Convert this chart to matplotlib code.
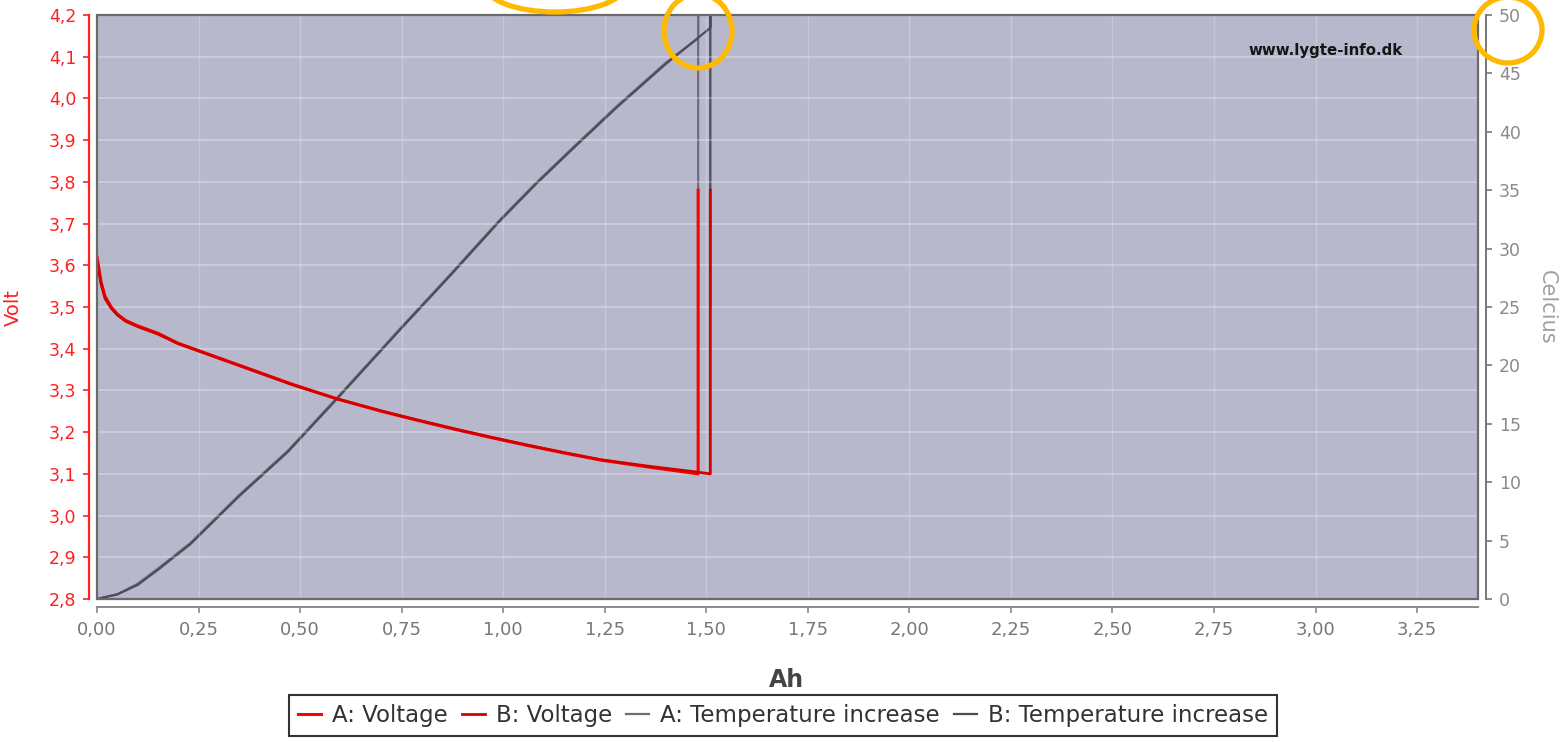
import numpy as np
import matplotlib
import matplotlib.pyplot as plt
from matplotlib.patches import Ellipse, Rectangle
from matplotlib.ticker import FuncFormatter, MultipleLocator
matplotlib.use('Agg')

# discharge capacity (Ah) and cell voltage, cell A and cell B
ah_a = [0.0, 0.01, 0.02, 0.035, 0.05, 0.07, 0.10, 0.15, 0.20, 0.30, 0.38, 0.48,
        0.59, 0.70, 0.79, 0.88, 0.97, 1.06, 1.15, 1.24, 1.36, 1.48, 1.48]
volt_a = [3.62, 3.56, 3.525, 3.50, 3.483, 3.468, 3.455, 3.437, 3.413, 3.378, 3.350, 3.315,
          3.280, 3.250, 3.228, 3.207, 3.187, 3.168, 3.150, 3.133, 3.116, 3.100, 3.78]
ah_b = [0.0, 0.01, 0.02, 0.035, 0.05, 0.07, 0.10, 0.15, 0.20, 0.30, 0.38, 0.48,
        0.59, 0.70, 0.79, 0.88, 0.97, 1.06, 1.15, 1.24, 1.36, 1.48, 1.51, 1.51]
volt_b = [3.61, 3.555, 3.52, 3.497, 3.481, 3.466, 3.453, 3.435, 3.412, 3.377, 3.349, 3.314,
          3.280, 3.251, 3.229, 3.208, 3.188, 3.169, 3.151, 3.134, 3.118, 3.104, 3.100, 3.78]

# temperature increase (Celcius) against capacity
t_ah_a = [0.0, 0.05, 0.10, 0.15, 0.23, 0.35, 0.47, 0.59, 0.75, 0.87, 0.99, 1.08, 1.17,
          1.28, 1.40, 1.48, 1.48, 1.48]
temp_a = [0.0, 0.4, 1.3, 2.6, 4.8, 8.9, 12.7, 17.2, 23.3, 27.8, 32.4, 35.6, 38.6,
          42.2, 45.9, 48.0, 75.0, 25.0]
t_ah_b = [0.0, 0.05, 0.10, 0.15, 0.23, 0.35, 0.47, 0.59, 0.75, 0.87, 0.99, 1.08, 1.17,
          1.28, 1.40, 1.51, 1.51, 1.51]
temp_b = [0.0, 0.4, 1.2, 2.5, 4.7, 8.8, 12.6, 17.1, 23.2, 27.7, 32.3, 35.5, 38.5,
          42.1, 45.8, 48.9, 75.0, 25.0]

W, H, dpi = 1561, 742, 100
plt.rcParams['font.family'] = ['DejaVu Sans']

fig = plt.figure(figsize=(W / dpi, H / dpi), dpi=dpi)
ax1 = fig.add_axes([97 / W, 1 - 599 / H, (1478 - 97) / W, (599 - 15) / H])
ax2 = ax1.twinx()

# voltage axis drawn above the temperature axis, background on the lower one
ax1.set_zorder(ax2.get_zorder() + 1)
ax1.patch.set_visible(False)
ax2.patch.set_visible(True)
ax2.patch.set_facecolor('#b8b8cc')

l_ta, = ax2.plot(t_ah_a, temp_a, color='#6c6c7a', lw=1.6, label='A: Temperature increase')
l_tb, = ax2.plot(t_ah_b, temp_b, color='#4c4c5a', lw=1.6, label='B: Temperature increase')
l_va, = ax1.plot(ah_a, volt_a, color='#ff0000', lw=2.2, label='A: Voltage')
l_vb, = ax1.plot(ah_b, volt_b, color='#d40000', lw=2.0, label='B: Voltage')

ax1.set_xlim(0, 3.40)
ax1.set_ylim(2.8, 4.2)
ax2.set_ylim(0, 50)

ax1.xaxis.set_major_locator(MultipleLocator(0.25))
ax1.yaxis.set_major_locator(MultipleLocator(0.1))
ax2.yaxis.set_major_locator(MultipleLocator(5))
ax1.xaxis.set_major_formatter(FuncFormatter(lambda v, p: f"{v:.2f}".replace('.', ',')))
ax1.yaxis.set_major_formatter(FuncFormatter(lambda v, p: f"{v:.1f}".replace('.', ',')))
ax2.yaxis.set_major_formatter(FuncFormatter(lambda v, p: f"{v:.0f}"))

# faint white grid
for y in np.arange(2.9, 4.15, 0.1):
    ax1.axhline(y, color='white', lw=1.2, alpha=0.32, zorder=0)
for x in np.arange(0.25, 3.3, 0.25):
    ax1.axvline(x, color='white', lw=1.0, alpha=0.22, zorder=0)

for sp in ['top', 'right']:
    ax1.spines[sp].set_visible(False)
for sp in ['top', 'left', 'bottom']:
    ax2.spines[sp].set_visible(False)
ax1.spines['left'].set_position(('outward', 6))
ax1.spines['left'].set_color('#ff2020')
ax1.spines['left'].set_linewidth(1.6)
ax1.spines['bottom'].set_position(('outward', 6))
ax1.spines['bottom'].set_color('#8a8a8a')
ax1.spines['bottom'].set_linewidth(1.4)
ax2.spines['right'].set_position(('outward', 6))
ax2.spines['right'].set_color('#777777')
ax2.spines['right'].set_linewidth(1.4)

ax1.tick_params(axis='y', colors='#ff2020', labelsize=12.5, length=4, width=1.2, pad=5)
ax1.tick_params(axis='x', colors='#8a8a8a', labelcolor='#777777', labelsize=13,
                length=4, width=1.2, pad=6)
ax2.tick_params(axis='y', colors='#777777', labelcolor='#8a8a8a', labelsize=12.5,
                length=4, width=1.2, pad=5)

# plot area border
ax1.add_patch(Rectangle((0, 0), 1, 1, transform=ax1.transAxes, fill=False,
                        edgecolor='#6a6a6a', lw=1.6, clip_on=False, zorder=10))

ax1.set_xlabel('Ah', fontsize=17, fontweight='bold', color='#444444')
ax1.xaxis.set_label_coords(0.499, -0.118)
ax1.set_ylabel('Volt', fontsize=14, color='#ff2020')
ax1.yaxis.set_label_coords(-0.054, 0.5)
ax2.set_ylabel('Celcius', fontsize=15, color='#a0a0a0', rotation=270, va='center')
ax2.yaxis.set_label_coords(1.050, 0.5)

ax1.text(0.89, 0.94, 'www.lygte-info.dk', transform=ax1.transAxes, ha='center',
         va='center', fontsize=10.8, fontweight='bold', color='#151515')

leg = fig.legend(handles=[l_va, l_vb, l_ta, l_tb], loc='lower center', ncol=4,
                 bbox_to_anchor=(783 / W, -0.008), fontsize=16.5, frameon=True,
                 fancybox=False, edgecolor='black', handlelength=1.0,
                 handletextpad=0.5, columnspacing=0.6, borderpad=0.4)
leg.get_frame().set_linewidth(1.5)
for txt in leg.get_texts():
    txt.set_color('#333333')

# highlight rings
for cx, cy, w, h in [(555, -15, 140, 54), (698, 31, 68, 74), (1508, 30, 68, 66)]:
    fig.add_artist(Ellipse((cx / W, 1 - cy / H), w / W, h / H, transform=fig.transFigure,
                           fill=False, edgecolor='#ffb900', lw=3.8, clip_on=False, zorder=20))

plt.savefig('out.png', dpi=dpi)
plt.close('all')
